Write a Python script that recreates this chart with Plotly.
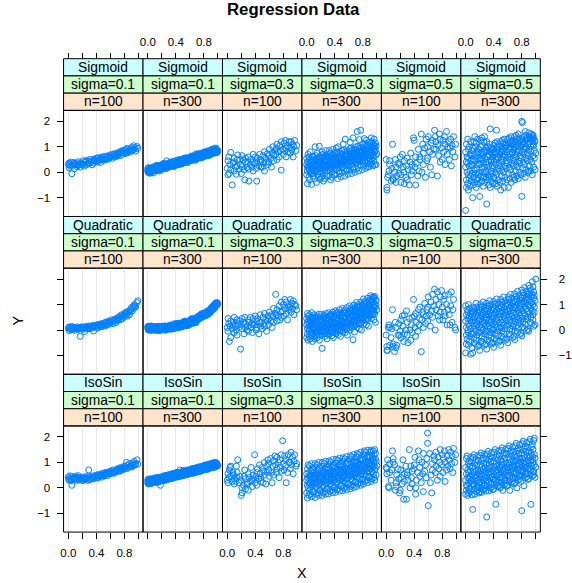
import plotly.graph_objects as go

# ---------------- data (all values in hundredths) ----------------
functions = ["Sigmoid", "Quadratic", "IsoSin"]
sigma_labels = ["0.1", "0.1", "0.3", "0.3", "0.5", "0.5"]
n_labels = ["100", "300", "100", "300", "100", "300"]
x_ticks = [0, 0.2, 0.4, 0.6, 0.8, 1.0]
x_tick_labels = ["0.0", "", "0.4", "", "0.8", ""]
y_ticks = [-1, 0, 1, 2]
y_tick_labels = ["\u22121", "0", "1", "2"]

x100 = [0,1,1,2,3,4,5,5,7,8,
        9,10,10,12,13,14,14,15,17,18,
        19,20,21,21,23,24,25,26,26,28,
        29,30,30,31,33,34,35,36,37,37,
        39,40,41,42,42,43,45,46,47,48,
        48,50,51,52,53,53,55,56,57,58,
        59,59,60,62,63,64,65,66,66,68,
        69,70,71,71,73,74,75,76,77,77,
        79,80,81,82,83,84,84,86,87,88,
        89,90,91,92,93,94,95,96,98,99]

x300 = [0,0,0,1,1,1,1,2,2,3,3,3,4,4,4,4,5,5,5,6,6,6,7,7,7,8,8,9,9,9,
        10,10,10,11,11,12,12,12,12,13,13,13,14,14,15,15,15,15,16,16,16,17,17,17,18,18,18,19,19,19,
        20,20,21,21,21,22,22,22,23,23,23,23,24,24,25,25,25,26,26,26,27,27,27,27,28,28,29,29,29,29,
        30,30,30,31,31,31,32,32,33,33,33,33,34,34,34,35,35,36,36,36,36,37,37,37,38,38,38,39,39,39,
        40,40,40,40,41,41,42,42,42,43,43,43,44,44,44,45,45,45,45,46,46,47,47,47,48,48,48,49,49,49,
        50,50,50,51,51,51,52,52,52,52,53,53,54,54,54,55,55,55,56,56,56,56,57,57,58,58,58,59,59,59,
        60,60,61,61,61,62,62,62,63,63,63,63,64,64,64,65,65,66,66,66,67,67,67,67,68,68,68,69,69,69,
        70,70,70,71,71,71,72,72,72,72,73,73,74,74,74,75,75,75,76,76,76,77,77,77,77,78,78,79,79,79,
        80,80,80,81,81,81,81,82,82,83,83,83,84,84,84,85,85,85,86,86,86,86,87,87,88,88,88,89,89,89,
        90,90,90,91,91,92,92,92,93,93,93,93,94,94,95,95,95,96,96,96,96,97,97,97,98,98,98,99,99,100]

# Sigmoid
y_sig_01_100 = [31,17,36,29,24,40,27,-6,33,38, 14,30,35,22,29,41,26,33,20,37,
                36,28,45,32,24,39,42,30,47,35, 33,44,38,50,41,29,47,36,45,52,
                43,55,48,40,57,46,51,38,59,49, 56,47,62,53,58,49,64,55,51,60,
                58,66,61,71,55,64,69,60,73,65, 72,63,77,68,74,81,66,79,71,85,
                78,86,73,90,81,76,94,84,88,79, 92,85,98,88,104,90,96,83,101,94]
y_sig_01_300 = [8,3,15,-2,10,5,18,0,12,7,-4,9,14,2,6,11,-1,16,4,8,13,1,10,20,5,9,-3,12,7,15,
                12,20,8,17,25,11,15,22,6,18,14,27,10,19,16,9,23,13,21,17,5,24,15,11,20,28,13,18,8,22,
                26,18,30,21,15,28,24,33,19,27,22,35,17,25,29,20,31,23,14,26,32,21,28,45,24,19,30,22,27,25,
                30,24,36,27,33,21,38,29,34,26,31,40,23,35,28,32,37,25,30,42,27,33,22,36,29,31,39,26,34,28,
                38,32,45,35,41,29,44,37,48,33,39,36,43,30,46,40,34,42,38,50,31,44,37,41,35,47,39,33,43,36,
                46,40,52,43,49,37,55,44,50,42,48,54,39,47,51,45,57,41,46,53,44,49,38,52,47,43,56,48,45,50,
                55,49,60,52,58,46,63,54,57,51,62,48,56,59,53,65,50,55,61,52,57,47,64,54,58,51,60,56,49,72,
                63,57,69,60,66,55,71,62,65,58,68,61,74,59,64,67,56,70,63,60,66,73,58,65,62,69,61,76,64,59,
                72,66,78,69,75,63,80,71,74,67,77,70,82,68,73,76,65,79,72,69,75,84,66,78,71,73,81,68,76,74,
                82,76,88,79,85,73,90,81,84,77,87,80,92,78,83,86,75,89,82,79,85,95,76,88,81,83,91,78,86,84]
y_sig_03_100 = [15,-10,45,60,-5,30,78,10,-50,35, 40,5,55,20,-8,48,25,68,12,50,
                30,-5,65,22,48,10,-30,40,55,18, 42,12,60,-35,30,50,20,38,70,5,
                35,60,15,45,-35,55,25,70,40,20, 48,20,65,35,80,5,55,40,72,30,
                65,40,90,55,20,75,100,45,68,85, 70,95,50,110,80,60,105,85,120,8,
                90,70,115,85,125,95,60,105,80,120, 95,75,120,88,110,60,100,125,85,105]
y_sig_03_300 = [30,-10,55,20,-45,40,5,70,25,-20,60,15,35,-30,10,50,0,80,28,-5,45,18,-48,38,12,62,22,-15,48,8,
                35,-5,60,25,-25,50,10,100,30,0,65,20,-40,45,15,55,5,75,38,-10,50,22,-20,42,102,60,28,-28,40,12,
                40,0,65,30,-20,55,15,80,35,5,70,25,-35,48,20,60,10,-25,42,-5,55,28,85,45,18,65,32,-15,50,22,
                45,5,70,35,-15,60,20,85,40,10,75,30,-30,52,25,65,15,-20,48,0,60,33,90,50,23,70,38,-10,55,28,
                52,10,78,42,-10,65,28,95,45,15,80,35,-25,58,30,72,20,100,55,5,65,40,-5,60,28,75,45,-18,62,35,
                58,18,85,48,0,72,35,110,52,22,88,42,-15,65,38,80,28,130,60,12,72,48,5,68,35,82,52,-8,70,40,
                65,25,92,55,8,80,42,118,60,30,95,50,-5,72,45,88,35,135,68,20,80,55,10,75,42,90,60,0,78,48,
                72,32,100,62,15,88,50,160,68,38,102,58,5,80,52,95,42,128,75,28,88,62,165,82,50,98,68,10,85,55,
                82,40,110,70,25,96,58,132,78,45,112,66,15,90,60,105,50,125,85,35,98,72,20,92,58,108,78,22,95,65,
                90,48,118,78,32,105,66,135,86,52,120,75,25,98,68,112,58,130,92,42,105,80,28,100,66,115,85,30,102,72]
y_sig_05_100 = [50,-60,-70,-20,-10,5,30,45,-35,15, 110,-30,-25,0,50,-40,20,-15,35,-5,
                30,60,-10,-40,70,20,0,-45,45,-20, 25,-30,55,10,-50,40,75,-10,30,5,
                135,125,20,-50,60,35,-15,90,5,50, 60,150,0,110,75,30,95,-20,130,45,
                100,55,140,80,20,115,-10,70,125,90, 165,140,120,90,-15,105,65,150,40,130,
                95,50,125,80,140,30,110,160,70,100, 120,50,95,130,25,105,80,140,60,110]
y_sig_05_300 = [-150,20,80,-60,40,110,-30,60,0,130,-45,35,90,-10,55,-70,25,100,-25,70,5,-55,45,120,-15,65,-35,30,85,-5,
                -100,25,95,-50,50,120,-20,70,10,140,-40,45,100,-5,60,-60,30,115,-30,75,15,-45,50,130,-10,80,-25,35,90,0,
                -95,30,100,-40,55,125,-15,75,15,135,-35,50,105,0,65,-55,35,120,-20,80,20,-40,55,140,-5,85,-20,40,95,5,
                30,120,-125,85,-30,60,100,-10,70,20,-50,40,110,-20,65,170,-60,50,95,5,80,-35,45,90,-5,75,25,-45,60,15,
                40,105,-20,90,-25,70,115,0,80,30,-45,50,165,-10,75,120,-55,60,100,15,90,-30,55,110,5,85,35,-40,70,25,
                50,120,-70,100,-15,80,125,10,90,40,-35,60,115,0,85,130,-60,70,105,25,95,-20,65,110,15,100,45,-30,80,35,
                60,130,-60,110,-5,90,135,20,100,50,-25,70,120,10,95,140,-40,80,125,35,105,-10,75,115,25,110,55,-20,90,45,
                70,140,-30,120,5,100,145,30,110,60,-15,80,130,20,105,150,-25,90,135,45,115,0,85,125,35,120,65,-10,100,55,
                80,200,-95,130,15,110,195,40,120,70,-5,90,140,30,115,160,-20,100,145,55,125,10,95,135,45,130,75,0,110,65,
                90,155,5,140,25,120,135,50,130,80,5,100,150,40,125,140,-10,110,145,65,130,20,105,135,55,125,85,10,120,75]

# Quadratic
y_quad_01_100 = [8,12,-2,5,10,3,14,0,7,11, 4,9,-1,7,12,2,8,5,-25,10,
                 6,13,3,9,-6,8,11,4,15,7, 12,8,16,5,14,10,18,-4,11,15,
                 15,20,11,18,8,22,14,19,25,13, 22,18,27,20,30,16,25,33,21,28,
                 30,36,27,40,32,25,38,34,42,29, 45,40,50,38,47,55,42,60,44,52,
                 58,65,55,70,62,54,68,75,60,72, 80,88,75,92,85,100,95,90,108,115]
y_quad_01_300 = [10,5,14,2,8,12,0,9,15,6,3,11,7,13,-2,9,4,16,8,1,12,6,10,3,14,7,-1,11,5,9,
                 7,12,3,10,-1,8,14,5,9,2,11,6,13,4,-3,8,10,1,12,7,15,3,9,5,11,-2,8,13,6,10,
                 9,4,13,7,1,11,15,6,10,3,12,8,16,5,-1,10,7,14,2,9,13,6,11,4,8,15,10,3,12,8,
                 12,7,17,10,4,14,19,9,13,6,16,11,20,8,3,13,10,18,5,12,16,9,15,7,11,25,13,6,15,11,
                 18,13,23,16,10,21,26,15,19,12,22,17,27,14,9,20,16,24,11,18,23,15,21,13,17,26,19,12,22,16,
                 26,20,31,24,17,29,34,22,27,19,30,25,35,21,16,28,24,32,18,26,31,23,29,20,25,34,27,19,30,24,
                 36,30,41,33,27,39,44,32,37,29,40,35,45,31,26,38,34,42,28,36,41,33,39,30,35,44,37,29,40,34,
                 46,42,50,46,40,50,54,46,50,44,54,50,58,48,44,54,52,58,48,55,60,54,65,52,56,62,58,52,62,58,
                 60,56,64,60,55,65,68,60,66,58,68,64,72,62,58,70,66,74,62,70,75,68,74,66,72,80,75,68,78,74,
                 80,76,86,82,76,88,92,84,88,82,92,90,98,88,84,96,94,100,90,104,100,96,102,98,104,108,102,98,106,104]
y_quad_03_100 = [10,-5,45,25,-45,15,35,-30,5,20, 30,-10,50,15,0,40,-20,25,10,35,
                 -75,20,45,5,30,-15,50,10,25,0, 15,40,-5,30,50,10,25,-10,45,20,
                 20,55,0,35,10,45,-15,30,60,15, 30,5,50,25,65,15,40,-5,35,55,
                 45,20,70,35,60,10,55,85,30,65, 140,60,35,80,55,95,40,70,110,50,
                 75,100,55,120,85,65,110,40,95,80, 90,120,70,105,85,115,60,100,95,80]
y_quad_03_300 = [20,-30,45,5,65,-15,30,-40,55,10,-5,40,25,-25,60,0,35,-35,15,50,-10,28,68,-20,42,8,-45,22,48,2,
                 15,-25,40,10,60,-10,35,-35,50,5,-5,45,20,-20,55,-2,30,-30,12,48,-8,25,62,-18,38,6,-40,20,45,0,
                 18,-20,42,12,62,-8,38,-72,52,8,-2,48,22,-15,58,2,32,-25,15,50,-5,28,65,-12,40,10,-35,24,48,4,
                 22,-15,48,18,68,-5,42,-20,58,12,2,52,28,-10,62,8,38,-22,20,55,0,32,70,-8,45,15,-30,28,52,10,
                 28,-10,55,24,75,0,48,-15,65,18,8,58,34,-5,70,14,45,-18,26,62,5,38,80,-2,52,22,-25,35,58,16,
                 36,-2,62,32,85,8,55,-8,72,26,16,66,42,2,78,22,52,-10,34,70,12,46,88,5,60,30,-20,42,66,24,
                 45,8,72,40,95,18,65,0,82,35,25,75,52,12,88,32,62,-38,44,80,22,55,98,15,70,40,-8,52,76,34,
                 58,20,85,52,108,30,78,10,95,48,38,88,65,25,100,45,75,5,56,92,35,68,110,28,82,52,0,65,88,46,
                 72,35,100,66,122,45,92,25,110,62,52,102,80,40,115,60,90,20,70,108,50,82,125,42,98,68,15,80,102,60,
                 92,55,118,85,135,65,110,45,128,80,72,120,98,60,130,78,108,40,90,125,70,100,132,62,115,88,30,98,118,80]
y_quad_05_100 = [-20,-65,-80,-80,10,20,10,-60,-30,5, 80,-55,-65,-85,30,10,-70,-60,-20,25,
                 -20,-5,40,-30,55,15,-45,-15,60,0, 75,-20,30,-50,45,0,-40,20,-10,50,
                 120,55,10,-25,65,30,-5,80,20,45, 90,-85,40,70,10,60,105,25,55,80,
                 35,90,130,60,15,110,75,140,50,95, 160,0,120,80,150,55,100,40,130,70,
                 155,90,40,120,70,135,55,100,20,80, 140,60,20,95,150,30,80,120,10,0]
y_quad_05_300 = [-90,35,95,-20,60,-55,10,80,-35,45,0,70,-60,25,100,-10,55,-45,15,85,-25,40,-95,65,5,-15,50,-70,30,75,
                 -90,40,90,-15,65,-50,15,85,-30,50,5,75,-55,30,105,-5,60,-40,20,90,-20,45,-65,70,10,-10,55,-60,35,80,
                 -80,45,100,-10,70,-45,20,90,-25,55,10,80,-50,35,110,0,65,-35,25,95,-15,50,-60,75,15,-5,60,-55,40,85,
                 -75,50,105,-5,75,-40,25,95,-20,60,15,85,-45,40,115,5,70,-30,30,100,-10,55,-55,80,20,0,65,-50,45,90,
                 -68,57,112,2,82,-33,32,102,-13,67,22,92,-38,47,122,12,77,-23,37,107,-3,62,-48,87,27,7,72,-43,52,97,
                 -60,65,120,10,90,-25,40,110,-5,75,30,100,-30,55,130,20,85,-15,45,115,5,70,-40,95,35,15,80,-35,60,105,
                 -50,75,130,20,100,-15,50,120,5,85,40,110,-20,65,140,30,95,-5,55,125,15,80,-30,105,45,25,90,-25,70,115,
                 -38,87,142,32,112,-3,62,132,17,97,52,122,-8,77,152,42,107,7,67,137,27,92,-18,117,57,37,102,-13,82,127,
                 -23,102,157,47,127,12,77,147,32,112,67,137,7,92,167,57,122,22,82,152,42,107,-3,132,72,52,117,2,97,142,
                 -5,120,175,65,145,30,95,165,50,130,85,155,25,110,190,75,140,40,100,170,60,125,15,150,90,70,135,20,115,200]

# IsoSin
y_iso_01_100 = [42,35,30,47,38,28,44,10,36,40, 33,45,38,29,42,36,48,31,40,35,
                30,38,42,28,35,40,33,45,37,29, 70,36,44,32,41,38,47,35,43,39,
                45,50,41,48,38,52,44,49,55,42, 50,57,47,54,60,51,58,48,62,55,
                60,55,66,58,63,70,57,65,61,68, 68,75,64,72,78,66,73,80,70,76,
                78,85,74,82,100,76,88,80,95,84, 86,92,82,98,88,104,90,95,110,93]
y_iso_01_300 = [25,18,32,22,28,15,30,20,35,24,19,27,31,16,26,33,21,29,23,36,18,28,25,32,20,30,34,22,27,24,
                30,24,38,28,34,21,36,27,40,31,25,33,37,22,32,39,27,35,29,42,24,34,31,38,26,36,10,28,33,30,
                37,31,45,35,41,28,43,34,47,38,32,40,44,29,39,46,34,42,36,49,31,41,38,45,33,43,47,35,40,37,
                44,38,52,42,48,35,50,41,54,45,39,47,51,36,46,53,41,49,43,56,38,48,45,52,40,50,54,42,47,44,
                51,45,59,49,55,42,57,48,61,52,46,54,58,43,53,60,48,56,50,70,45,55,52,59,47,57,61,49,54,51,
                58,52,66,56,62,49,64,55,68,59,53,61,65,50,60,67,55,63,57,70,52,62,59,66,54,64,68,56,61,58,
                65,59,73,63,69,56,71,62,75,66,60,68,72,57,67,74,62,70,64,77,59,69,66,73,61,71,75,63,68,65,
                72,66,80,70,76,63,78,69,82,73,67,75,79,64,74,81,69,77,71,84,66,76,73,80,68,78,82,70,75,72,
                80,74,88,78,84,71,86,77,90,81,75,83,87,72,82,89,77,85,79,92,74,84,81,88,76,86,90,78,83,80,
                88,82,96,86,92,79,94,85,98,89,83,91,95,80,90,97,85,93,87,100,82,92,89,96,84,94,98,86,91,88]
y_iso_03_100 = [30,20,55,40,70,80,85,45,25,60, 50,35,15,25,85,60,40,110,20,45,
                30,-30,-20,0,10,45,70,-5,35,20, 15,55,-10,40,25,80,30,5,50,35,
                130,20,45,60,10,75,35,90,55,25, 40,80,20,65,100,50,15,85,60,110,
                70,95,45,115,60,20,85,105,50,125, 90,60,120,75,100,40,110,80,130,65,
                185,95,70,125,85,20,110,60,130,100, 100,75,140,90,120,55,105,130,85,95]
y_iso_03_300 = [30,-20,55,10,75,-40,40,90,0,60,25,-30,45,15,85,-10,50,20,-25,65,35,5,95,-35,48,12,70,-15,38,22,
                35,-15,60,15,80,-38,45,95,5,65,30,-25,50,20,90,-5,55,25,-20,70,40,10,100,-30,52,18,75,-10,42,28,
                40,-10,65,20,85,-30,50,100,10,70,35,-20,55,25,95,0,60,30,-15,75,45,15,105,-25,58,22,80,-5,48,32,
                46,-4,71,26,91,-24,56,106,16,76,41,-14,61,31,101,6,66,36,-9,81,51,21,111,-19,64,28,86,1,54,38,
                52,2,77,32,97,-18,62,112,22,82,47,-8,67,37,107,12,72,42,-3,87,57,27,117,-13,70,34,92,7,60,44,
                58,8,83,38,103,-12,68,118,28,88,53,-2,73,43,113,18,78,48,3,93,63,33,123,-7,76,40,98,13,66,50,
                66,16,91,46,111,-4,76,126,36,96,61,6,81,51,121,26,86,56,11,101,71,41,131,1,84,48,106,21,74,58,
                75,25,100,55,120,5,85,135,45,105,70,15,90,60,130,35,95,65,20,110,80,50,140,10,93,57,115,30,83,67,
                85,35,110,65,130,15,95,145,55,115,80,25,100,70,140,45,105,75,30,120,90,60,148,20,103,67,125,40,93,77,
                95,45,120,75,140,25,105,148,65,125,90,35,110,80,145,55,115,85,40,130,100,70,150,30,113,77,135,50,103,87]
y_iso_05_100 = [80,55,75,110,5,0,60,95,30,70, 145,115,100,90,-10,5,20,50,75,35,
                -20,-10,70,40,15,110,-45,55,25,85, -45,50,60,30,150,0,85,40,15,65,
                75,90,120,-25,0,30,60,145,110,45, 80,20,100,55,135,-15,65,90,40,115,
                215,175,-70,135,20,50,-20,95,70,125, 110,60,140,85,30,120,75,100,45,150,
                90,130,60,115,145,25,100,70,125,85, 150,110,75,140,95,125,60,155,100,130]
y_iso_05_300 = [30,-25,80,10,115,-10,55,125,5,70,40,-30,95,20,60,-20,105,35,-5,85,45,0,120,-15,65,25,100,-28,50,15,
                35,-85,85,15,120,-5,60,130,10,75,45,-25,100,25,65,-15,110,40,0,90,50,5,125,-10,70,30,105,-20,55,20,
                42,-15,92,22,127,2,67,137,17,82,52,-18,107,32,72,-8,117,47,7,97,57,12,132,-3,77,37,112,-13,62,27,
                48,-115,98,28,133,8,73,143,23,88,58,-12,113,38,78,-2,123,53,13,103,63,18,138,3,83,43,118,-7,68,33,
                55,-5,105,35,140,15,80,150,30,95,65,-65,120,45,85,5,130,60,20,110,70,25,145,10,90,50,125,0,75,40,
                62,2,112,42,147,22,87,157,37,102,72,-10,127,52,92,12,137,67,27,117,77,32,152,17,97,57,132,7,82,47,
                70,10,120,50,155,30,95,165,45,110,80,-10,135,60,100,20,145,75,35,125,85,40,160,25,105,65,140,15,90,55,
                80,20,130,60,165,40,105,175,55,120,90,0,145,70,110,30,155,85,45,135,95,50,170,35,115,75,150,25,100,65,
                88,-90,138,68,173,48,113,183,63,128,98,8,153,78,118,38,163,93,53,143,103,58,178,43,123,83,158,33,108,73,
                96,36,146,76,181,56,121,191,71,136,106,-65,161,86,126,46,171,101,61,151,111,66,186,51,131,91,195,41,116,81]

panel_y = [
    [y_sig_01_100, y_sig_01_300, y_sig_03_100, y_sig_03_300, y_sig_05_100, y_sig_05_300],
    [y_quad_01_100, y_quad_01_300, y_quad_03_100, y_quad_03_300, y_quad_05_100, y_quad_05_300],
    [y_iso_01_100, y_iso_01_300, y_iso_03_100, y_iso_03_300, y_iso_05_100, y_iso_05_300],
]

# ---------------- layout geometry (pixels) ----------------
W, H = 572, 583
LEFT = 62.3
PW = 81.75
TOP = 58.7
STRIP_H = 17.23
PANEL_H = 106.1
ROW_H = 3 * STRIP_H + PANEL_H
X_RANGE = [-0.068, 1.065]
Y_RANGE = [-1.74, 2.43]
STRIP_COLS = ["#ccffff", "#ccffcc", "#ffe5cc"]
FONT = "Liberation Sans, Arial, Helvetica, sans-serif"
PT_COL = "#0080ff"


def fx(px):
    return px / W


def fy(py):
    return 1 - py / H


fig = go.Figure()
layout = dict(
    width=W, height=H, margin=dict(l=0, r=0, t=0, b=0),
    paper_bgcolor="white", plot_bgcolor="white", showlegend=False,
    font=dict(family=FONT, color="black"),
)
shapes = []
annotations = []
tickfont = dict(family=FONT, size=11.5, color="black")

for r in range(3):
    strip_top = TOP + r * ROW_H
    ptop = strip_top + 3 * STRIP_H
    pbot = ptop + PANEL_H
    for c in range(6):
        p = r * 6 + c + 1
        sfx = "" if p == 1 else str(p)
        xl, xr = LEFT + c * PW, LEFT + (c + 1) * PW
        ys = panel_y[r][c]
        xs = x100 if n_labels[c] == "100" else x300
        fig.add_trace(go.Scatter(
            x=[v / 100 for v in xs[:len(ys)]], y=[v / 100 for v in ys],
            mode="markers", xaxis="x" + sfx, yaxis="y" + sfx,
            marker=dict(symbol="circle-open", size=6, color=PT_COL, line=dict(width=1, color=PT_COL)),
            hoverinfo="skip", showlegend=False,
        ))
        xa = dict(domain=[fx(xl), fx(xr)], range=X_RANGE, tickvals=x_ticks,
                  showgrid=True, gridcolor="#e8e8e8", gridwidth=1, zeroline=False,
                  showline=False, tickfont=tickfont, tickcolor="black", ticklen=6,
                  tickwidth=1, fixedrange=True)
        if r == 0:
            xa.update(side="top", anchor="free", position=fy(strip_top), ticks="outside",
                      ticktext=x_tick_labels if c % 2 == 1 else [""] * 6, ticklabelstandoff=2)
        elif r == 2:
            xa.update(side="bottom", anchor="y" + sfx, ticks="outside",
                      ticktext=x_tick_labels if c % 2 == 0 else [""] * 6, ticklabelstandoff=4)
        else:
            xa.update(anchor="y" + sfx, ticks="", showticklabels=False)
        ya = dict(domain=[fy(pbot), fy(ptop)], range=Y_RANGE, tickvals=y_ticks, ticktext=y_tick_labels,
                  showgrid=False, zeroline=False, showline=False, anchor="x" + sfx,
                  tickfont=tickfont, tickcolor="black", ticklen=6, tickwidth=1, fixedrange=True)
        if c == 0:
            ya.update(side="left", ticks="outside", showticklabels=(r != 1), ticklabelstandoff=4)
        elif c == 5:
            ya.update(side="right", ticks="outside", showticklabels=(r == 1), ticklabelstandoff=9)
        else:
            ya.update(ticks="", showticklabels=False)
        layout["xaxis" + sfx] = xa
        layout["yaxis" + sfx] = ya
        # panel border
        shapes.append(dict(type="rect", xref="x" + sfx + " domain", yref="y" + sfx + " domain",
                           x0=0, x1=1, y0=0, y1=1, line=dict(color="black", width=1)))
        # strips
        texts = [functions[r], "sigma=" + sigma_labels[c], "n=" + n_labels[c]]
        for k in range(3):
            st = strip_top + k * STRIP_H
            shapes.append(dict(type="rect", xref="paper", yref="paper",
                               x0=fx(xl), x1=fx(xr), y0=fy(st + STRIP_H), y1=fy(st),
                               fillcolor=STRIP_COLS[k], line=dict(color="black", width=1), layer="below"))
            annotations.append(dict(text=texts[k], xref="paper", yref="paper",
                                    x=fx((xl + xr) / 2), y=fy(st + STRIP_H / 2),
                                    xanchor="center", yanchor="middle", showarrow=False,
                                    font=dict(family=FONT, size=13.8, color="black")))

annotations.append(dict(text="<b>Regression Data</b>", xref="paper", yref="paper",
                        x=fx(299), y=fy(10), xanchor="center", yanchor="middle",
                        showarrow=False, font=dict(family=FONT, size=16.8, color="black")))
annotations.append(dict(text="X", xref="paper", yref="paper", x=fx(307.5), y=fy(573),
                        xanchor="center", yanchor="middle", showarrow=False,
                        font=dict(family=FONT, size=14.4, color="black")))
annotations.append(dict(text="Y", xref="paper", yref="paper", x=fx(15), y=fy(321),
                        xanchor="center", yanchor="middle", showarrow=False, textangle=-90,
                        font=dict(family=FONT, size=14.4, color="black")))

layout["shapes"] = shapes
layout["annotations"] = annotations
fig.update_layout(**layout)
fig.write_html("out.html")
